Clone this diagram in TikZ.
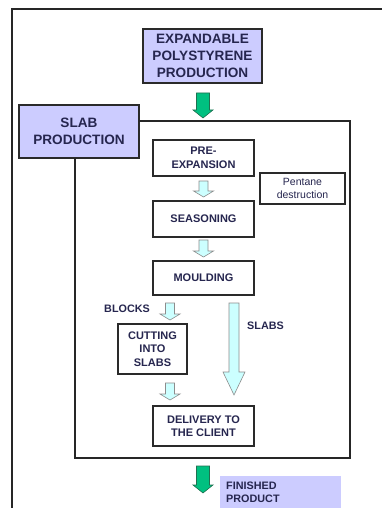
\documentclass[tikz,border=0pt]{standalone}
\usepackage{fontspec}
\setmainfont{Liberation Sans}
\definecolor{lav}{HTML}{CCCCFF}
\definecolor{txt}{HTML}{26264F}
\definecolor{lcyan}{HTML}{CCFFFF}
\definecolor{grn}{HTML}{00C080}
\definecolor{grnd}{HTML}{207050}
\definecolor{bord}{HTML}{2A2A2A}
\newcommand{\blockarr}[7]{% style, cx, ytop, ybot, shaft half, head half, head len
  \draw[#1] (#2-#5,#3) -- (#2+#5,#3) -- (#2+#5,#4-#7) -- (#2+#6,#4-#7) -- (#2,#4)
    -- (#2-#6,#4-#7) -- (#2-#5,#4-#7) -- cycle;}
\begin{document}
\begin{tikzpicture}[x=1pt,y=-1pt,
  box/.style={draw=bord,line width=1.5pt,align=center,text=txt,inner sep=1pt,
    font=\fontsize{11}{13.5}\selectfont\bfseries},
  bigbox/.style={box,fill=lav,font=\fontsize{13.6}{17}\selectfont\bfseries},
  lbl/.style={text=txt,font=\fontsize{10.8}{13}\selectfont\bfseries,inner sep=0pt},
  frame/.style={draw=black!85,line width=1.3pt},
  smallarr/.style={fill=lcyan,draw=black!45,line width=0.6pt},
  greenarr/.style={fill=grn,draw=grnd,line width=0.6pt}]
\useasboundingbox (0,0) rectangle (382,508);
\fill[white] (0,0) rectangle (382,508);
% outer frame
\coordinate (ofb) at (12,508);
\coordinate (oftl) at (12,9);
\coordinate (oftr) at (382,9);
\draw[frame] (ofb) -- (oftl) -- (oftr);
% nodes
\node[bigbox,minimum width=119pt,minimum height=54pt] (eps) at (202.5,56)
  {EXPANDABLE\\POLYSTYRENE\\PRODUCTION};
\node[bigbox,minimum width=120pt,minimum height=53pt] (slab) at (79,131.5)
  {SLAB\\PRODUCTION};
% inner frame
\coordinate (ifa) at (139,121);
\coordinate (ifb) at (350,121);
\coordinate (ifc) at (350,458);
\coordinate (ifd) at (75,458);
\coordinate (ife) at (75,158);
\draw[frame] (ifa) -- (ifb) -- (ifc) -- (ifd) -- (ife);
\node[box,minimum width=101pt,minimum height=36pt] (pre) at (203.5,158)
  {PRE-\\EXPANSION};
\node[box,minimum width=85pt,minimum height=31pt,font=\fontsize{10.5}{13}\selectfont] (pent) at (302.5,188.5)
  {Pentane\\destruction};
\node[box,minimum width=101pt,minimum height=36pt] (seas) at (203.5,219) {SEASONING};
\node[box,minimum width=101pt,minimum height=34pt] (mould) at (203.5,278) {MOULDING};
\node[box,minimum width=69pt,minimum height=50pt] (cut) at (152.5,349)
  {CUTTING\\INTO\\SLABS};
\node[box,minimum width=101pt,minimum height=40pt] (deliv) at (203.5,426)
  {DELIVERY TO\\THE CLIENT};
\node[fill=lav,minimum width=121pt,minimum height=32pt,inner sep=0pt] (fin) at (280.5,492) {};
\node[lbl,anchor=west,align=left] (fint) at (226,492) {FINISHED\\PRODUCT};
\node[lbl,anchor=east] (blocks) at (150,309) {BLOCKS};
\node[lbl,anchor=west] (slabs) at (247,326) {SLABS};
% arrows
\blockarr{greenarr}{203}{93}{118}{6.5}{10}{8}
\blockarr{smallarr}{203.5}{181}{197}{4.5}{10}{6}
\blockarr{smallarr}{203.5}{240}{257}{4.5}{10}{6}
\blockarr{smallarr}{170}{303}{320}{4.5}{10}{6}
\blockarr{smallarr}{170}{383}{400}{4.5}{10}{6}
\blockarr{smallarr}{234}{303}{395}{5}{11}{23}
\blockarr{greenarr}{203}{466}{493}{6.5}{10}{8}
\end{tikzpicture}
\end{document}
